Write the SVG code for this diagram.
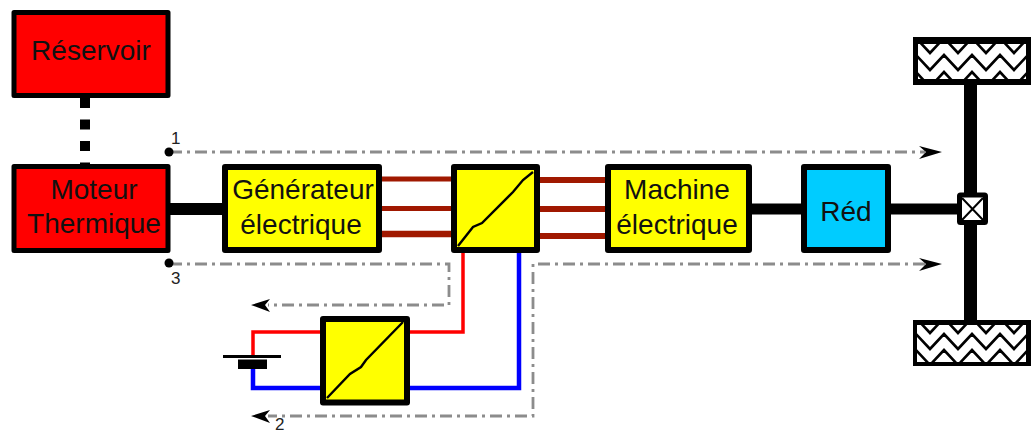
<svg xmlns="http://www.w3.org/2000/svg" width="1031" height="434" viewBox="0 0 1031 434">
<style>
.box{stroke:#000;stroke-width:6;stroke-linejoin:round}
.thin{stroke-width:5}
.red{fill:#ff0000}.yel{fill:#ffff00}.cy{fill:#00ccff}
.t{font-family:"Liberation Sans",Arial,sans-serif;font-size:28px;fill:#111;text-anchor:middle}
.n{font-family:"Liberation Sans",Arial,sans-serif;font-size:17px;fill:#222}
.dd{fill:none;stroke:#8c8c8c;stroke-width:2.800;stroke-dasharray:12 5 3 5}
.shaft{stroke:#000;fill:none}
.br{stroke:#a01800;fill:none}
.diag{stroke:#000;stroke-width:2.400;fill:none}
.zig{fill:none;stroke:#000;stroke-width:2.600}
.arr{fill:#000}
</style>
<defs>
<clipPath id="wc"><rect x="918" y="44" width="108" height="35"/></clipPath>
<clipPath id="wc2"><rect x="917" y="325" width="109" height="37"/></clipPath>
<path id="zz" class="zig" d="M902 0L916 -15L930 0L944 -15L958 0L972 -15L986 0L1000 -15L1014 0L1028 -15L1042 0"/>
</defs>
<g id="connectors">
<path class="shaft" stroke-width="10" stroke-dasharray="10 11.500" d="M85 98V166"/>
<path class="shaft" stroke-width="12" d="M170 209H224"/>
<path class="shaft" stroke-width="11" d="M750 209H804"/>
<path class="shaft" stroke-width="11" d="M888 209H960"/>
<path class="shaft" stroke-width="13" d="M970.500 84V322"/>
<path class="br" stroke-width="5" d="M380 179H453"/>
<path class="br" stroke-width="5" d="M380 208.500H453"/>
<path class="br" stroke-width="6.500" d="M380 234H453"/>
<path class="br" stroke-width="6" d="M538 180H606"/>
<path class="br" stroke-width="6" d="M538 209H606"/>
<path class="br" stroke-width="6" d="M538 236H606"/>
<path fill="none" stroke="#ff0000" stroke-width="3.500" d="M463 252V332H410M321 332H253V356"/>
<path fill="none" stroke="#0000ff" stroke-width="4.500" d="M519 252V388H410M321 388H253V366"/>
<path class="dd" d="M170 152H925"/>
<path class="dd" d="M170 264H449V305H268"/>
<path class="dd" d="M925 264H533V416H268"/>
<path class="arr" d="M942 152L919 146L926 152L919 159Z"/>
<path class="arr" d="M942 264L919 258L926 264L919 271Z"/>
<path class="arr" d="M251 305L270 299L265 305L270 312Z"/>
<path class="arr" d="M251 416L270 410L265 416L270 423Z"/>
<circle cx="169" cy="152" r="4.500"/>
<circle cx="169" cy="263" r="4.500"/>
</g>
<g id="reservoir"><rect class="box thin red" x="14" y="12.500" width="154" height="83"/><text class="t" x="91" y="60">Réservoir</text></g>
<g id="moteur"><rect class="box thin red" x="14" y="166.500" width="154" height="84"/><text class="t" x="94" y="199">Moteur</text><text class="t" x="94" y="233">Thermique</text></g>
<g id="generateur"><rect class="box yel" x="225" y="167" width="154" height="83"/><text class="t" x="303" y="199">Générateur</text><text class="t" x="301" y="234">électrique</text></g>
<g id="conv1"><rect class="box yel" x="454" y="167" width="83" height="83"/><path class="diag" d="M458 246L473 227L482 223L513 192L523 180L533 172"/></g>
<g id="machine"><rect class="box yel" x="608" y="167" width="141" height="83"/><text class="t" x="677" y="199">Machine</text><text class="t" x="677" y="234">électrique</text></g>
<g id="red"><rect class="box cy" x="804" y="167" width="84" height="83"/><text class="t" x="846" y="221">Réd</text></g>
<g id="conv2"><rect class="box yel" x="323" y="319" width="84" height="83.500"/><path class="diag" d="M327 398L350 374L361 367L366 360L403 322"/></g>
<g id="batterie"><rect x="223" y="355" width="58" height="3" fill="#000"/><rect x="238" y="359.500" width="29" height="9.500" fill="#000"/></g>
<g id="roue-haut"><path d="M913 37H1031V85H913Z"/><rect x="918" y="44" width="108" height="35" fill="#fff"/><g clip-path="url(#wc)"><use href="#zz" y="53"/><use href="#zz" y="70"/><use href="#zz" y="87"/></g></g>
<g id="roue-bas"><path d="M913 320H1031V366H913Z"/><rect x="917" y="325" width="109" height="37" fill="#fff"/><g clip-path="url(#wc2)"><use href="#zz" y="333"/><use href="#zz" y="349"/><use href="#zz" y="365"/></g></g>
<g id="differentiel"><rect x="959.500" y="195" width="26" height="27.500" fill="#fff" stroke="#000" stroke-width="5" rx="1"/><path d="M962 198L983 220M983 198L962 220" stroke="#000" stroke-width="2" fill="none"/></g>
<g id="labels"><text class="n" x="171" y="144">1</text><text class="n" x="171" y="284">3</text><text class="n" x="275" y="430">2</text></g>
</svg>
